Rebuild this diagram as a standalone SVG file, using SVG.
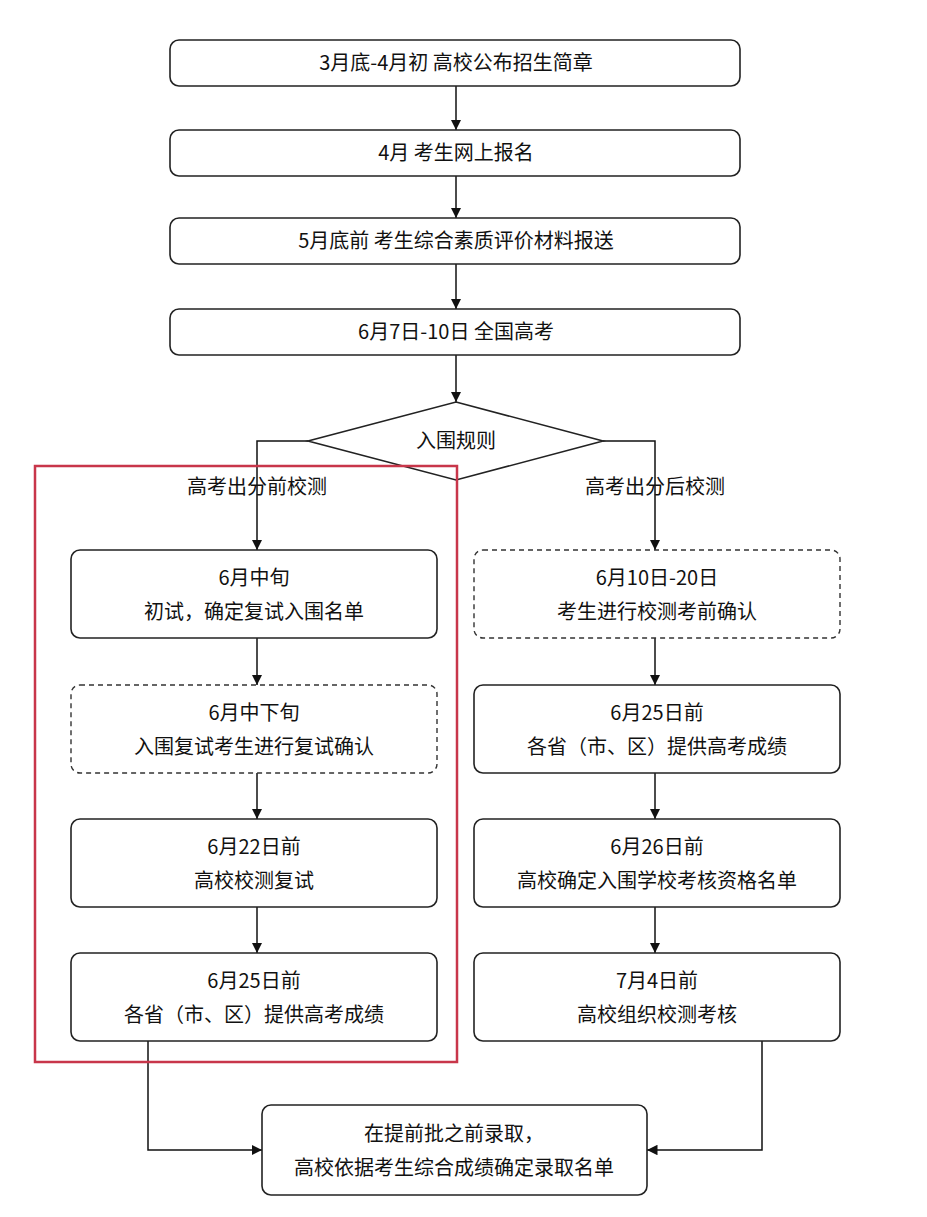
<svg xmlns="http://www.w3.org/2000/svg" width="927" height="1217" viewBox="0 0 927 1217">
<defs>
<marker id="ah" viewBox="0 0 10 10" refX="10" refY="5" markerWidth="7" markerHeight="7" orient="auto"><path d="M0,0 L10,5 L0,10 z" fill="#111"/></marker>
<style>
.b{fill:#fff;stroke:#222;stroke-width:1.6}
.d{fill:#fff;stroke:#333;stroke-width:1.4;stroke-dasharray:5,4}
.c{fill:none;stroke:#111;stroke-width:1.5}
.a{fill:none;stroke:#111;stroke-width:1.5;marker-end:url(#ah)}
text{font-family:"Noto Sans CJK SC","Liberation Sans",sans-serif;font-size:20px;fill:#111;text-anchor:middle}
</style>
</defs>
<rect width="927" height="1217" fill="#fff"/>
<g id="connectors">
<path class="a" d="M456,86 V130"/>
<path class="a" d="M456,176 V218"/>
<path class="a" d="M456,264 V309"/>
<path class="a" d="M456,355 V402"/>
<path class="a" d="M308,441 H257 V550"/>
<path class="a" d="M603,441 H655 V550"/>
<path class="a" d="M257,638 V685"/>
<path class="a" d="M257,773 V819"/>
<path class="a" d="M257,907 V953"/>
<path class="a" d="M655,638 V685"/>
<path class="a" d="M655,773 V819"/>
<path class="a" d="M655,907 V953"/>
<path class="a" d="M148,1041 V1150 H262"/>
<path class="a" d="M762,1041 V1150 H647"/>
</g>
<g id="n1"><rect class="b" x="170" y="40" width="570" height="46" rx="9"/><text x="456" y="70">3月底-4月初 高校公布招生简章</text></g>
<g id="n2"><rect class="b" x="170" y="130" width="570" height="46" rx="9"/><text x="456" y="160">4月 考生网上报名</text></g>
<g id="n3"><rect class="b" x="170" y="218" width="570" height="46" rx="9"/><text x="456" y="248">5月底前 考生综合素质评价材料报送</text></g>
<g id="n4"><rect class="b" x="170" y="309" width="570" height="46" rx="9"/><text x="456" y="339">6月7日-10日 全国高考</text></g>
<g id="diamond"><polygon class="b" points="456,402 603,441 456,480 308,441"/><text x="456" y="448">入围规则</text></g>
<text x="257" y="494">高考出分前校测</text>
<text x="655" y="494">高考出分后校测</text>
<g id="l1"><rect class="b" x="71" y="550" width="366" height="88" rx="9"/><text x="254" y="585">6月中旬</text><text x="254" y="619">初试，确定复试入围名单</text></g>
<g id="l2"><rect class="d" x="71" y="685" width="366" height="88" rx="9"/><text x="254" y="720">6月中下旬</text><text x="254" y="754">入围复试考生进行复试确认</text></g>
<g id="l3"><rect class="b" x="71" y="819" width="366" height="88" rx="9"/><text x="254" y="854">6月22日前</text><text x="254" y="888">高校校测复试</text></g>
<g id="l4"><rect class="b" x="71" y="953" width="366" height="88" rx="9"/><text x="254" y="988">6月25日前</text><text x="254" y="1022">各省（市、区）提供高考成绩</text></g>
<g id="r1"><rect class="d" x="474" y="550" width="366" height="88" rx="9"/><text x="657" y="585">6月10日-20日</text><text x="657" y="619">考生进行校测考前确认</text></g>
<g id="r2"><rect class="b" x="474" y="685" width="366" height="88" rx="9"/><text x="657" y="720">6月25日前</text><text x="657" y="754">各省（市、区）提供高考成绩</text></g>
<g id="r3"><rect class="b" x="474" y="819" width="366" height="88" rx="9"/><text x="657" y="854">6月26日前</text><text x="657" y="888">高校确定入围学校考核资格名单</text></g>
<g id="r4"><rect class="b" x="474" y="953" width="366" height="88" rx="9"/><text x="657" y="988">7月4日前</text><text x="657" y="1022">高校组织校测考核</text></g>
<g id="final"><rect class="b" x="262" y="1105" width="385" height="90" rx="9"/><text x="454" y="1141">在提前批之前录取，</text><text x="454" y="1175">高校依据考生综合成绩确定录取名单</text></g>
<rect x="35" y="466" width="422" height="596" fill="none" stroke="#c8364a" stroke-width="2.5"/>
</svg>
